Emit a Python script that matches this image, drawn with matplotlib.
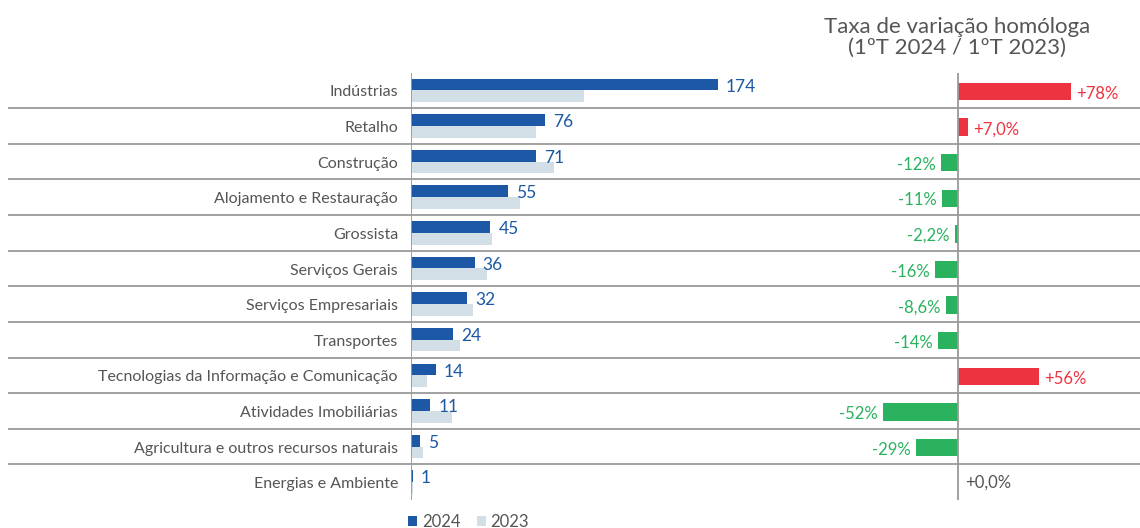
import matplotlib
matplotlib.use("Agg")
import matplotlib.pyplot as plt
import numpy as np

plt.rcParams['font.family'] = ['Lato', 'DejaVu Sans']

categories = ["Indústrias", "Retalho", "Construção", "Alojamento e Restauração",
              "Grossista", "Serviços Gerais", "Serviços Empresariais", "Transportes",
              "Tecnologias da Informação e Comunicação", "Atividades Imobiliárias",
              "Agricultura e outros recursos naturais", "Energias e Ambiente"]
values_2024 = [174, 76, 71, 55, 45, 36, 32, 24, 14, 11, 5, 1]
values_2023 = [98, 71, 81, 62, 46, 43, 35, 28, 9, 23, 7, 1]
growth = [78, 7.0, -12, -11, -2.2, -16, -8.6, -14, 56, -52, -29, 0.0]
growth_labels = ["+78%", "+7,0%", "-12%", "-11%", "-2,2%", "-16%", "-8,6%", "-14%",
                 "+56%", "-52%", "-29%", "+0,0%"]
legend_labels = ["2024", "2023"]
title = "Taxa de variação homóloga\n(1ºT 2024 / 1ºT 2023)"

C24 = "#1c58a5"
C23 = "#d3dfe7"
RED = "#ee3340"
GREEN = "#2ab25e"
TXT = "#555555"
GRID = "#9a9a9a"

W, H = 1140, 528
fig = plt.figure(figsize=(W / 100, H / 100), dpi=100)

def fx(px):
    return px / W

def fy(py):
    return 1 - py / H

top_px, bot_px = 72.5, 500.0
n = len(categories)
y = np.arange(n)
dy = 0.06  # small text offset to visually center

# background axes for separators
bg = fig.add_axes([fx(8), fy(bot_px), fx(1140 - 8), (bot_px - top_px) / H])
bg.set_xlim(0, 1)
bg.set_ylim(n - 0.5, -0.5)
for k in range(n - 1):
    bg.axhline(k + 0.5, color=GRID, lw=1.3)
bg.axis('off')

# left panel
L0, L1 = 411, 800
scaleL = (718 - 411) / 174
axL = fig.add_axes([fx(L0), fy(bot_px), fx(L1 - L0), (bot_px - top_px) / H])
axL.patch.set_alpha(0)
axL.set_xlim(0, (L1 - L0) / scaleL)
axL.set_ylim(n - 0.5, -0.5)
bh = 0.33
axL.barh(y - bh / 2, values_2024, height=bh, color=C24, label=legend_labels[0])
axL.barh(y + bh / 2, values_2023, height=bh, color=C23, label=legend_labels[1])
for i, v in enumerate(values_2024):
    axL.text(v + 8 / scaleL, i - bh / 2 + dy, f"{v}", color=C24, fontsize=12.5,
             va='center', ha='left')
for i, c in enumerate(categories):
    axL.text(-13 / scaleL, i + dy, c, color=TXT, fontsize=11.5, va='center', ha='right')
axL.axvline(0, color=GRID, lw=1.3, ymax=1.0)
for s in axL.spines.values():
    s.set_visible(False)
axL.set_xticks([])
axL.set_yticks([])

# right panel
R0, R1 = 860, 1140
scaleR = (1071 - 958) / 78
axR = fig.add_axes([fx(R0), fy(bot_px), fx(R1 - R0), (bot_px - top_px) / H])
axR.patch.set_alpha(0)
axR.set_xlim(-(958 - R0) / scaleR, (R1 - 958) / scaleR)
axR.set_ylim(n - 0.5, -0.5)
cols = [RED if g > 0 else GREEN for g in growth]
axR.barh(y + 0.03, growth, height=0.49, color=cols)
for i, (g, lab) in enumerate(zip(growth, growth_labels)):
    if g > 0:
        axR.text(g + 5 / scaleR, i + 0.03 + dy, lab, color=RED, fontsize=12, va='center', ha='left')
    elif g < 0:
        axR.text(g - 5 / scaleR, i + 0.03 + dy, lab, color=GREEN, fontsize=12, va='center', ha='right')
    else:
        axR.text(7 / scaleR, i, lab, color=TXT, fontsize=12, va='center', ha='left')
axR.axvline(0, color=GRID, lw=1.3)
for s in axR.spines.values():
    s.set_visible(False)
axR.set_xticks([])
axR.set_yticks([])

fig.text(fx(957), fy(37), title, ha='center', va='center', fontsize=16,
         color=TXT, linespacing=1.05)

# legend
fig.legend(loc='center left', bbox_to_anchor=(fx(408), fy(522)), ncol=2, frameon=False,
           fontsize=12, handlelength=0.55, handleheight=0.6, handletextpad=0.3,
           columnspacing=0.95, labelcolor=TXT, borderpad=0, borderaxespad=0)

fig.savefig("out.png", dpi=100)
